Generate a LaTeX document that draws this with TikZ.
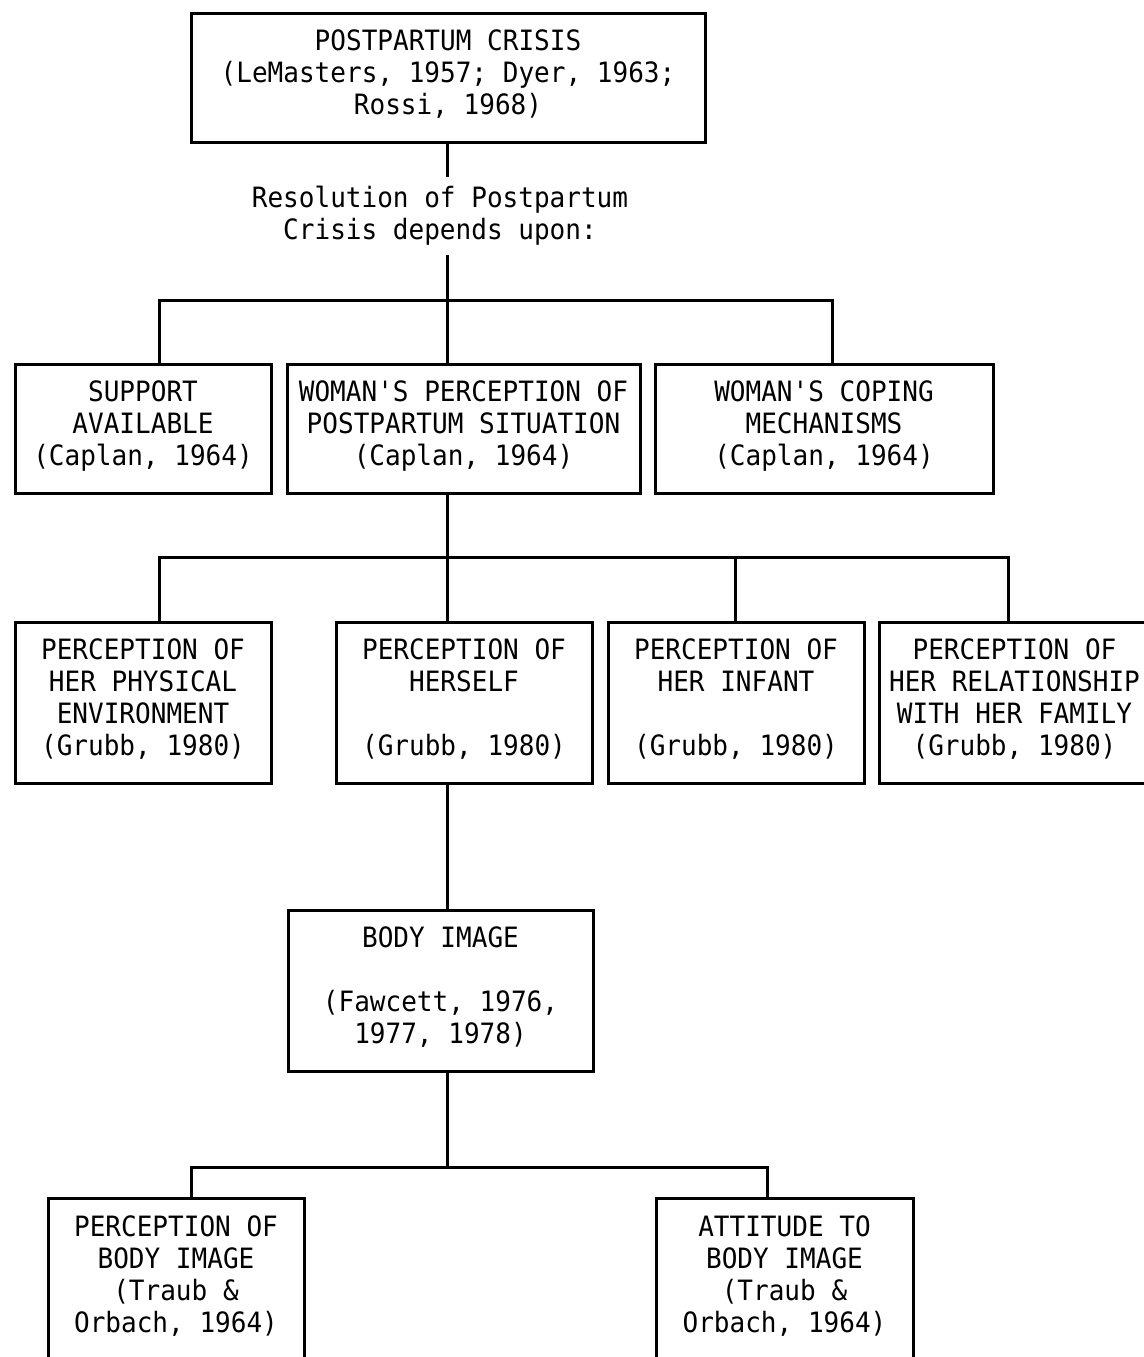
\documentclass[tikz,border=0pt]{standalone}
\usepackage{fontspec}
\newfontfamily\typefont[FakeStretch=0.93]{DejaVu Sans Mono}
\usetikzlibrary{positioning,calc}

\begin{document}
\begin{tikzpicture}[x=0.5pt,y=-0.5pt,line width=1.5pt,
    box/.style={draw, rectangle, inner sep=0pt, align=center,
      font={\typefont\fontsize{14}{16}\selectfont}, text depth=5pt},
    openbox/.style={box, anchor=north, inner ysep=8.5pt, text depth=30pt},
    plain/.style={inner xsep=0pt, inner ysep=4pt, align=center,
      font={\typefont\fontsize{14}{16}\selectfont}}]
  \useasboundingbox (0,0) rectangle (1144,1357);
  \coordinate (axis) at (447,0);

  % Crisis and what it depends upon
  \node[box, minimum width=257pt, minimum height=64.5pt] (crisis) at (448,77.5)
    {POSTPARTUM CRISIS\\(LeMasters, 1957; Dyer, 1963;\\Rossi, 1968)};
  \node[plain] (resolve) at (440,216)
    {Resolution of Postpartum\\Crisis depends upon:};

  % Second row
  \node[box, minimum width=128pt, minimum height=64.5pt] (support) at (143,428.5)
    {SUPPORT\\AVAILABLE\\(Caplan, 1964)};
  \node[box, minimum width=176.5pt, minimum height=64.5pt] (perception) at (463.5,428.5)
    {WOMAN'S PERCEPTION OF\\POSTPARTUM SITUATION\\(Caplan, 1964)};
  \node[box, minimum width=169pt, minimum height=64.5pt] (coping) at (824,428.5)
    {WOMAN'S COPING\\MECHANISMS\\(Caplan, 1964)};

  % Third row
  \node[box, minimum width=128pt, minimum height=80.5pt] (physical) at (143,702.5)
    {PERCEPTION OF\\HER PHYSICAL\\ENVIRONMENT\\(Grubb, 1980)};
  \node[box, minimum width=128pt, minimum height=80.5pt] (herself) at (464,702.5)
    {PERCEPTION OF\\HERSELF\\[16pt](Grubb, 1980)};
  \node[box, minimum width=128pt, minimum height=80.5pt] (infant) at (736,702.5)
    {PERCEPTION OF\\HER INFANT\\[16pt](Grubb, 1980)};
  \node[box, minimum width=135.5pt, minimum height=80.5pt] (relation) at (1014.5,702.5)
    {PERCEPTION OF\\HER RELATIONSHIP\\WITH HER FAMILY\\(Grubb, 1980)};

  % Body image
  \node[box, minimum width=152.5pt, minimum height=80.5pt] (body) at (440.5,990.5)
    {BODY IMAGE\\[16pt](Fawcett, 1976,\\1977, 1978)};
  \node[openbox, minimum width=128pt] (percbody) at (176,1197)
    {PERCEPTION OF\\BODY IMAGE\\(Traub \&\\Orbach, 1964)};
  \node[openbox, minimum width=128.5pt] (attbody) at (784.5,1197)
    {ATTITUDE TO\\BODY IMAGE\\(Traub \&\\Orbach, 1964)};

  % Splits
  \coordinate (splitAl) at (159,300);
  \coordinate (splitAr) at (832,300);
  \coordinate (splitBl) at (159,557);
  \coordinate (splitBm) at (735,557);
  \coordinate (splitBr) at (1008,557);
  \coordinate (splitCl) at (191,1167);
  \coordinate (splitCr) at (767,1167);

  % Connectors
  \draw (crisis.south -| axis) -- (resolve.north -| axis);
  \draw (resolve.south -| axis) -- (perception.north -| axis);
  \draw (support.north -| splitAl) -- (splitAl) -- (splitAr) -- (coping.north -| splitAr);

  \draw (perception.south -| axis) -- (herself.north -| axis);
  \draw (physical.north -| splitBl) -- (splitBl) -- (splitBr) -- (relation.north -| splitBr);
  \draw (splitBm) -- (infant.north -| splitBm);

  \draw (herself.south -| axis) -- (body.north -| axis);
  \draw (body.south -| axis) -- (splitCl -| axis);
  \draw (percbody.north -| splitCl) -- (splitCl) -- (splitCr) -- (attbody.north -| splitCr);
\end{tikzpicture}
\end{document}
